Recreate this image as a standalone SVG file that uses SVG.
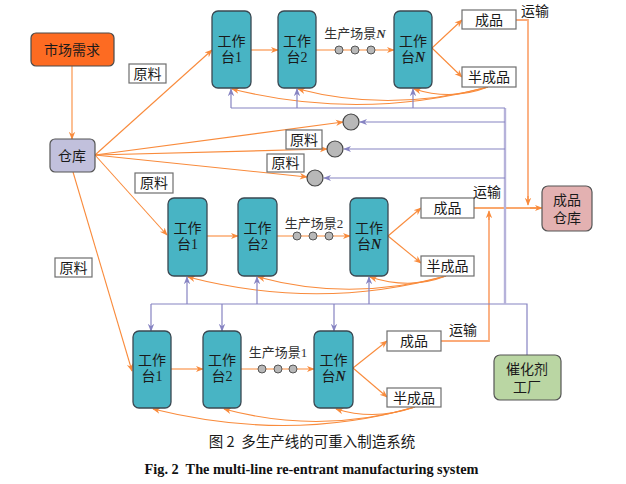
<svg xmlns="http://www.w3.org/2000/svg" width="626" height="484" viewBox="0 0 626 484">
<defs>
<style>
.ws{fill:#48b4c4;stroke:#3a4852;stroke-width:1.3}
.lb{fill:#fff;stroke:#6e6e6e;stroke-width:1.2}
.t{font-family:"Liberation Serif","Noto Sans CJK SC",serif;font-size:14px;fill:#1a1a1a;text-anchor:middle}
.tc{font-family:"Noto Sans CJK SC",sans-serif;font-size:14.5px;fill:#1a1a1a;text-anchor:middle}
.ts{font-family:"Liberation Serif","Noto Sans CJK SC",serif;font-size:13px;fill:#333;text-anchor:middle}
.ni{font-style:italic;font-weight:bold}
.o{fill:none;stroke:#f98b3c;stroke-width:1.1;marker-end:url(#ao)}
.on{fill:none;stroke:#f98b3c;stroke-width:1.1}
.ot{fill:none;stroke:#fbab7a;stroke-width:1.8}
.p{fill:none;stroke:#8683c2;stroke-width:1.2}
.pa{fill:none;stroke:#8683c2;stroke-width:1.2;marker-end:url(#ap)}
.dot{fill:#b8b8b8;stroke:#555;stroke-width:1}
.cir{fill:#b8b8b8;stroke:#444;stroke-width:1.2}
</style>
<marker id="ao" viewBox="0 0 10 10" refX="9" refY="5" markerWidth="8" markerHeight="8" markerUnits="userSpaceOnUse" orient="auto"><path d="M0,1 L10,5 L0,9 L3,5 Z" fill="#f98b3c"/></marker>
<marker id="ap" viewBox="0 0 10 10" refX="9" refY="5" markerWidth="8" markerHeight="8" markerUnits="userSpaceOnUse" orient="auto"><path d="M0,1 L10,5 L0,9 L3,5 Z" fill="#8683c2"/></marker>
</defs>
<rect width="626" height="484" fill="#fff"/>

<g id="connectors">
<path class="o" d="M72,66 L72,139"/>
<path class="o" d="M95,155 L212,50"/>
<path class="o" d="M95,155 L343,122"/>
<path class="o" d="M95,155 L327,149"/>
<path class="o" d="M95,155 L307,177"/>
<path class="o" d="M95,155 L167,235"/>
<path class="o" d="M73,172 L132,371"/>

<path class="o" d="M251,50 L278,50"/>
<path class="o" d="M316,50 L394,50"/>
<path class="o" d="M432,48 L462,20"/>
<path class="o" d="M432,48 L462,77"/>
<path class="o" d="M488,87 Q452,101 414,89"/>
<path class="o" d="M488,87 Q390,113 298,89"/>
<path class="o" d="M488,87 Q360,121 232,89"/>

<path class="o" d="M207,236 L238,236"/>
<path class="o" d="M277,236 L350,236"/>
<path class="o" d="M388,236 L421,208"/>
<path class="o" d="M388,236 L421,263"/>
<path class="o" d="M446,276 Q410,290 370,277"/>
<path class="o" d="M446,276 Q350,302 258,277"/>
<path class="o" d="M446,276 Q320,311 188,277"/>

<path class="o" d="M171,369 L203,369"/>
<path class="o" d="M241,369 L314,369"/>
<path class="o" d="M353,368 L387,341"/>
<path class="o" d="M353,368 L387,397"/>
<path class="o" d="M415,407 Q375,421 336,409"/>
<path class="o" d="M415,407 Q320,435 224,409"/>
<path class="o" d="M415,407 Q290,443 153,409"/>

<path class="ot" d="M516,20 L528,20 L528,200"/>
<path class="o" d="M528,196 L528,205"/>
<path class="on" d="M474,208 L540,208" style="stroke-width:1.3"/>
<path class="o" d="M530,208 L542,208"/>
<path class="ot" d="M441,341 L489,341 L489,215"/>
<path class="o" d="M489,220 L489,211"/>

<path class="p" d="M527,355 L527,304 L151,304"/>
<path style="fill:none;stroke:#b6b2da;stroke-width:2.4" d="M505,304 L505,108"/>
<path class="p" d="M505,108 L231,108"/>
<path class="pa" d="M231,108 L231,89"/>
<path class="pa" d="M297,108 L297,89"/>
<path class="pa" d="M413,108 L413,89"/>
<path class="pa" d="M505,122 L360,122"/>
<path class="pa" d="M505,149 L344,149"/>
<path class="pa" d="M505,178 L324,178"/>
<path class="pa" d="M187,304 L187,277"/>
<path class="pa" d="M257,304 L257,277"/>
<path class="pa" d="M369,304 L369,277"/>
<path class="pa" d="M151,304 L151,331"/>
<path class="pa" d="M222,304 L222,331"/>
<path class="pa" d="M334,304 L334,331"/>
</g>

<g id="dots">
<circle class="dot" cx="339" cy="50" r="4"/><circle class="dot" cx="355" cy="50" r="4"/><circle class="dot" cx="371" cy="50" r="4"/>
<circle class="dot" cx="297" cy="236" r="4"/><circle class="dot" cx="313" cy="236" r="4"/><circle class="dot" cx="329" cy="236" r="4"/>
<circle class="dot" cx="262" cy="369" r="4"/><circle class="dot" cx="278" cy="369" r="4"/><circle class="dot" cx="293" cy="369" r="4"/>
</g>

<g id="mix1"><circle class="cir" cx="351" cy="122" r="8"/></g>
<g id="mix2"><circle class="cir" cx="335" cy="149" r="8"/></g>
<g id="mix3"><circle class="cir" cx="315" cy="178" r="8"/></g>

<g id="market"><rect x="31" y="33" width="83" height="33" rx="5" fill="#fd6b22" stroke="#4a4a4a" stroke-width="1.2"/><text class="t" x="72" y="55">市场需求</text></g>
<g id="warehouse"><rect x="50" y="139" width="45" height="33" rx="5" fill="#c1c0dc" stroke="#555" stroke-width="1.2"/><text class="t" x="72" y="161">仓库</text></g>
<g id="fgwarehouse"><rect x="542" y="186" width="50" height="45" rx="6" fill="#e3b1b1" stroke="#555" stroke-width="1.2"/><text class="t" x="567" y="205">成品</text><text class="t" x="567" y="223">仓库</text></g>
<g id="catalyst"><rect x="494" y="355" width="67" height="45" rx="6" fill="#bad6a3" stroke="#555" stroke-width="1.2"/><text class="t" x="527" y="374">催化剂</text><text class="t" x="527" y="392">工厂</text></g>

<g id="raw1"><rect class="lb" x="129" y="64" width="37" height="19"/><text class="t" x="147.5" y="79">原料</text></g>
<g id="raw2"><rect class="lb" x="286" y="130" width="36" height="19"/><text class="t" x="304" y="145">原料</text></g>
<g id="raw3"><rect class="lb" x="267" y="154" width="37" height="18"/><text class="t" x="285.5" y="168">原料</text></g>
<g id="raw4"><rect class="lb" x="135" y="173" width="38" height="20"/><text class="t" x="154" y="188">原料</text></g>
<g id="raw5"><rect class="lb" x="55" y="258" width="37" height="19"/><text class="t" x="73.5" y="273">原料</text></g>

<g id="top-ws1"><rect class="ws" x="212" y="11" width="39" height="77" rx="6"/><text class="t" x="231.5" y="46">工作</text><text class="t" x="231.5" y="62">台1</text></g>
<g id="top-ws2"><rect class="ws" x="278" y="11" width="38" height="77" rx="6"/><text class="t" x="297" y="46">工作</text><text class="t" x="297" y="62">台2</text></g>
<g id="top-wsn"><rect class="ws" x="394" y="11" width="38" height="77" rx="6"/><text class="t" x="413" y="46">工作</text><text class="t" x="413" y="62">台<tspan class="ni">N</tspan></text></g>
<g id="top-fp"><rect class="lb" x="462" y="10" width="54" height="19"/><text class="t" x="489" y="25">成品</text></g>
<g id="top-sp"><rect class="lb" x="462" y="67" width="54" height="20"/><text class="t" x="489" y="82">半成品</text></g>
<text class="ts" x="355" y="38">生产场景<tspan class="ni">N</tspan></text>
<text class="t" x="535" y="16">运输</text>

<g id="mid-ws1"><rect class="ws" x="168" y="198" width="39" height="78" rx="6"/><text class="t" x="187.5" y="233">工作</text><text class="t" x="187.5" y="249">台1</text></g>
<g id="mid-ws2"><rect class="ws" x="238" y="198" width="39" height="78" rx="6"/><text class="t" x="257.5" y="233">工作</text><text class="t" x="257.5" y="249">台2</text></g>
<g id="mid-wsn"><rect class="ws" x="350" y="198" width="38" height="78" rx="6"/><text class="t" x="369" y="233">工作</text><text class="t" x="369" y="249">台<tspan class="ni">N</tspan></text></g>
<g id="mid-fp"><rect class="lb" x="421" y="198" width="53" height="20"/><text class="t" x="447.5" y="213">成品</text></g>
<g id="mid-sp"><rect class="lb" x="421" y="256" width="53" height="20"/><text class="t" x="447.5" y="271">半成品</text></g>
<text class="ts" x="314" y="228">生产场景2</text>
<text class="t" x="487" y="197">运输</text>

<g id="bot-ws1"><rect class="ws" x="133" y="331" width="38" height="77" rx="6"/><text class="t" x="152" y="365">工作</text><text class="t" x="152" y="381">台1</text></g>
<g id="bot-ws2"><rect class="ws" x="203" y="331" width="38" height="77" rx="6"/><text class="t" x="222" y="365">工作</text><text class="t" x="222" y="381">台2</text></g>
<g id="bot-wsn"><rect class="ws" x="314" y="331" width="39" height="77" rx="6"/><text class="t" x="333.5" y="365">工作</text><text class="t" x="333.5" y="381">台<tspan class="ni">N</tspan></text></g>
<g id="bot-fp"><rect class="lb" x="387" y="331" width="54" height="20"/><text class="t" x="414" y="346">成品</text></g>
<g id="bot-sp"><rect class="lb" x="387" y="388" width="54" height="19"/><text class="t" x="414" y="403">半成品</text></g>
<text class="ts" x="278" y="357">生产场景1</text>
<text class="t" x="463" y="335">运输</text>

<text class="tc" x="312" y="447" xml:space="preserve">图 2  多生产线的可重入制造系统</text>
<text x="311.5" y="474" font-family="Liberation Serif, serif" font-weight="bold" font-size="14.3" text-anchor="middle" fill="#111" xml:space="preserve">Fig. 2  The multi-line re-entrant manufacturing system</text>
</svg>
